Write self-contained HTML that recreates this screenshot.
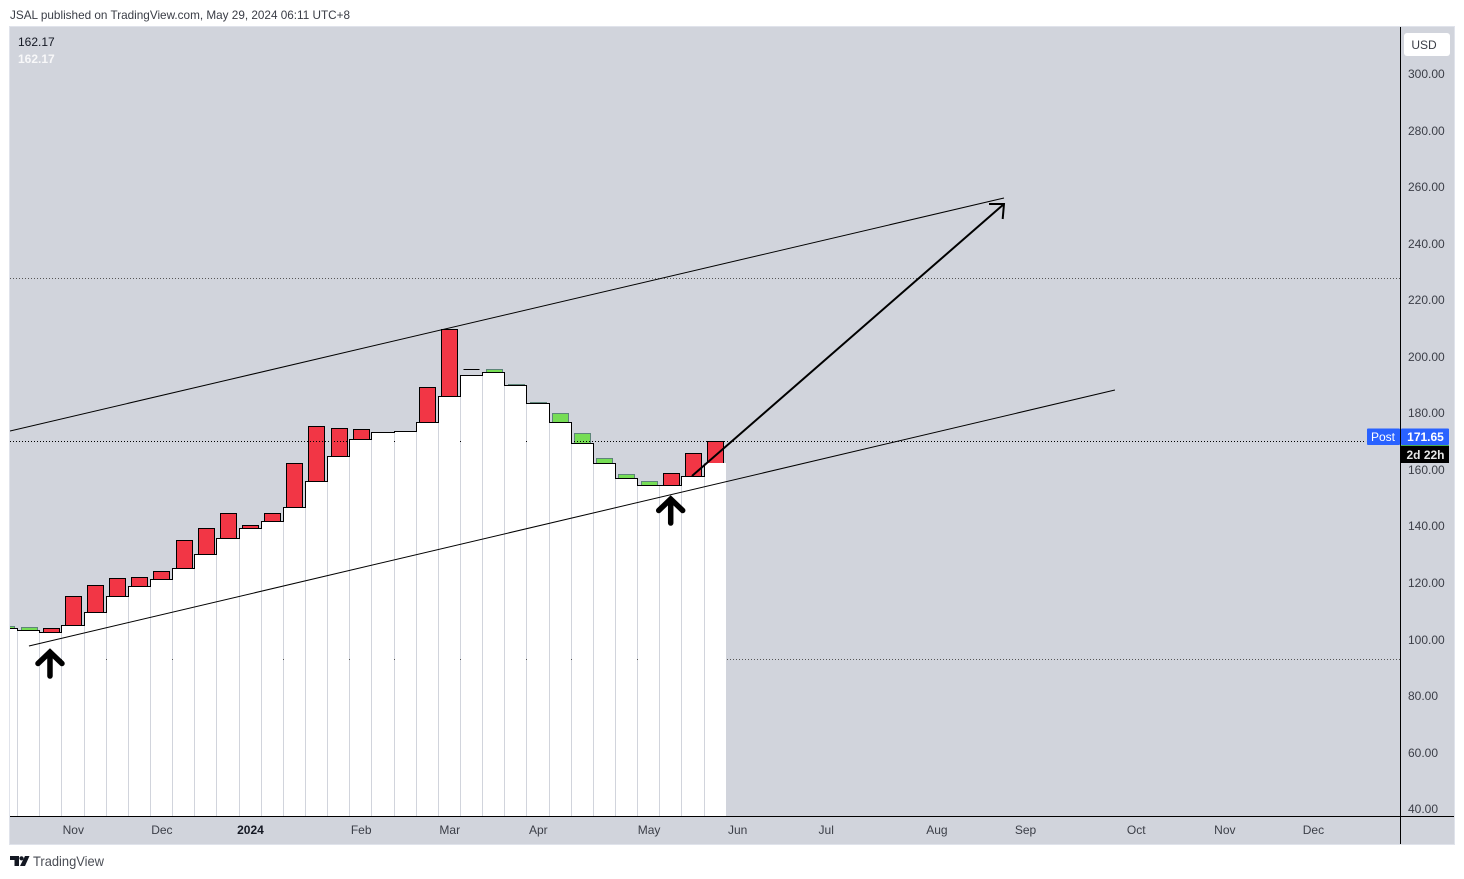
<!DOCTYPE html>
<html lang="en">
<head>
<meta charset="utf-8">
<title>JSAL chart</title>
<style>
html,body{margin:0;padding:0;background:#fff;width:1464px;height:879px;overflow:hidden}
svg{display:block}
text{font-family:"Liberation Sans","DejaVu Sans",sans-serif;font-size:12px;fill:#3b3e47}
</style>
</head>
<body>
<svg id="chart" xmlns="http://www.w3.org/2000/svg" width="1464" height="879" viewBox="0 0 1464 879">
  <defs><clipPath id="pane-clip"><rect x="10" y="27" width="1390" height="789"/></clipPath></defs>
  <text x="10" y="19" textLength="340" lengthAdjust="spacingAndGlyphs" style="fill:#3a3d46">JSAL published on TradingView.com, May 29, 2024 06:11 UTC+8</text>
  <rect x="9.5" y="26.5" width="1445" height="818" fill="#d1d4dc" stroke="#e0e3eb"/>
  <g id="pane" clip-path="url(#pane-clip)"></g>
  <g id="drawings" clip-path="url(#pane-clip)"></g>
  <line x1="1400.5" y1="27" x2="1400.5" y2="844" stroke="#000"/>
  <line x1="10" y1="816.5" x2="1454" y2="816.5" stroke="#000"/>
  <g id="y-axis"></g>
  <g id="x-axis"></g>
  <text x="18" y="46" style="fill:#131722">162.17</text>
  <text x="18" y="63" style="fill:#fff;font-weight:bold" opacity=".85">162.17</text>
  <rect x="1404" y="33" width="46" height="23" rx="3" fill="#fff"/>
  <text x="1424" y="49" text-anchor="middle" style="fill:#3b3e47">USD</text>
  <rect x="1367" y="428.5" width="33" height="16.5" rx="1" fill="#2962ff"/>
  <text x="1383" y="441" text-anchor="middle" style="fill:#fff">Post</text>
  <rect x="1401" y="428.5" width="48" height="16.5" rx="1" fill="#2962ff"/>
  <text x="1425.5" y="441" text-anchor="middle" style="fill:#fff;font-weight:bold">171.65</text>
  <rect x="1401" y="445" width="48" height="1" fill="#4caf50"/>
  <rect x="1401" y="446" width="48" height="17" fill="#000"/>
  <text x="1425.5" y="459" text-anchor="middle" style="fill:#e6e6e6;font-weight:bold">2d 22h</text>
  <g>
    <path d="M10 856h9v10h-4.500v-6H10z M21.500 856.200a2.100 2.100 0 1 1 -.01 0z M25 856h4.500l-4.500 10h-5z" fill="#131722"/>
    <text x="33" y="866" textLength="71" lengthAdjust="spacingAndGlyphs" style="font-size:14px;fill:#4a4d55">TradingView</text>
  </g>
</svg>
<script>
// Bars are weekly; index -1 is the partially visible first bar.
const firstBarIndex = -1;
const opens = [103.84,103.02,103.73,115.05,118.94,121.41,121.77,123.89,134.85,139.10,144.40,140.16,144.40,162.08,175.17,174.46,174.11,173.05,173.40,188.97,209.48,195.33,194.27,189.67,183.31,176.59,169.16,162.08,156.78,154.30,158.55,165.62,170.00];
const closes = [104.54,104.30,102.32,104.79,109.60,115.05,118.59,121.06,124.95,130.01,135.56,139.10,141.57,146.52,155.72,164.56,170.57,173.05,173.40,176.59,185.78,195.33,195.33,190.03,183.77,179.77,172.70,163.85,158.20,155.72,154.30,157.49,162.17];
const baseValues = [103.84,103.02,102.32,104.79,109.60,115.05,118.59,121.06,124.95,130.01,135.56,139.10,141.57,146.52,155.72,164.56,170.57,173.05,173.40,176.59,185.78,193.21,194.27,189.67,183.31,176.59,169.16,162.08,156.78,154.30,154.30,157.49,162.17];
const priceTicks = [40,60,80,100,120,140,160,180,200,220,240,260,280,300];
const timeLabels = ['Nov','Dec','2024','Feb','Mar','Apr','May','Jun','Jul','Aug','Sep','Oct','Nov','Dec'];
const timeLabelBars = [2,6,10,15,19,23,28,32,36,41,45,50,54,58];
const levelPrices = [227.45,169.97,92.70];
const levelEndBars = [62,60.4,62];
const trendStartBars = [-0.835,0.02];
const trendStartPrices = [173.51,97.47];
const trendEndBars = [44.05,49.06];
const trendEndPrices = [255.92,188.01];
const arrowBars = [29.96,44.05];
const arrowPrices = [157.6,253.8];
const markerBars = [0.97,29.0];
const markerPrices = [96.41,150.52];

const NS = 'http://www.w3.org/2000/svg';
const xOf = i => 28.5 + 22.145 * i;
const yOf = p => 808.5 - (p - 40) * 2.8275;
const snap = v => Math.round(v) + 0.5;
const edgeOf = i => Math.round(xOf(i) - 0.3);
function make(tag, parent, attrs) {
  const el = document.createElementNS(NS, tag);
  for (const k in attrs) el.setAttribute(k, attrs[k]);
  parent.appendChild(el);
  return el;
}
const pane = document.getElementById('pane');
const drawings = document.getElementById('drawings');
const yAxis = document.getElementById('y-axis');
const xAxis = document.getElementById('x-axis');

// Candle bodies sit beneath the dotted levels, which sit beneath the white columns.
opens.forEach((open, n) => {
  const i = n + firstBarIndex;
  const close = closes[n];
  const left = Math.round(xOf(i) - 8) + 0.5;
  const yTop = snap(yOf(Math.max(open, close)));
  const yBottom = snap(yOf(Math.min(open, close)));
  const isFlat = open === close;
  const isGreen = close > open;
  const d = 'M' + left + ' ' + yTop + 'h16V' + yBottom + 'h-16z';
  const body = make('path', pane, {d: d, fill: isFlat ? 'none' : (isGreen ? '#76dd55' : '#f23645'), stroke: isGreen ? '#5e8579' : '#000', 'stroke-width': 1});
  
  
});

levelPrices.forEach((p, n) => {
  const level = make('line', pane, {x1: 10, x2: xOf(levelEndBars[n]), y1: snap(yOf(p)), y2: snap(yOf(p)), stroke: n === 1 ? '#000' : '#555', 'stroke-width': 1, 'stroke-dasharray': '1 2'});
  
  
});

// White baseline columns; the 1px gaps between them read as vertical rules.
baseValues.forEach((v, n) => {
  const i = n + firstBarIndex;
  const x0 = edgeOf(i - 0.5) + 1;
  const x1 = n === baseValues.length - 1 ? Math.round(xOf(i + 0.5)) : edgeOf(i + 0.5);
  const y = Math.round(yOf(v));
  const col = make('rect', pane, {x: x0, y: y, width: x1 - x0, height: 816 - y, fill: '#fff'});
  
  
});

// Step outline along the baseline, stopping before the live bar.
let stepPath = '';
baseValues.slice(0, -1).forEach((v, n) => {
  const i = n + firstBarIndex;
  const y = snap(yOf(v));
  stepPath += (n === 0 ? 'M' + xOf(i - 0.5) + ' ' + y : 'V' + y) + 'H' + (edgeOf(i + 0.5) + 0.5);
});
stepPath += 'V' + snap(yOf(baseValues[baseValues.length - 1]));
const step = make('path', pane, {d: stepPath, fill: 'none', stroke: '#000', 'stroke-width': 1});



trendStartBars.forEach((b, n) => {
  const trend = make('line', drawings, {x1: xOf(b), y1: yOf(trendStartPrices[n]), x2: xOf(trendEndBars[n]), y2: yOf(trendEndPrices[n]), stroke: '#000', 'stroke-width': 1});
  
  
});

const ax0 = xOf(arrowBars[0]), ay0 = yOf(arrowPrices[0]), ax1 = xOf(arrowBars[1]), ay1 = yOf(arrowPrices[1]);
const forecast = make('path', drawings, {d: 'M' + ax0 + ' ' + ay0 + 'L' + ax1 + ' ' + ay1 + 'M' + (ax1 - 15) + ' ' + ay1 + 'L' + ax1 + ' ' + ay1 + 'L' + (ax1 - 1.3) + ' ' + (ay1 + 15), fill: 'none', stroke: '#000', 'stroke-width': 2});



markerBars.forEach((b, n) => {
  const x = xOf(b), y = yOf(markerPrices[n]);
  const marker = make('path', drawings, {d: 'M' + x + ' ' + (y + 27) + 'V' + (y + 3) + 'M' + (x - 12) + ' ' + (y + 14.5) + 'L' + x + ' ' + (y + 3) + 'L' + (x + 12) + ' ' + (y + 14.5), fill: 'none', stroke: '#000', 'stroke-width': 5.5, 'stroke-linecap': 'round', 'stroke-linejoin': 'miter'});
  
  
});

priceTicks.forEach(p => {
  const t = make('text', yAxis, {x: 1408, y: Math.round(yOf(p) + 0.7) + 4});
  t.textContent = p.toFixed(2);
  
  
});

timeLabels.forEach((label, n) => {
  const t = make('text', xAxis, {x: xOf(timeLabelBars[n]) + 0.5, y: 834, 'text-anchor': 'middle'});
  t.textContent = label;
  if (label === '2024') t.setAttribute('style', 'font-weight:bold;fill:#131722');
  
  
});
</script>
</body>
</html>
